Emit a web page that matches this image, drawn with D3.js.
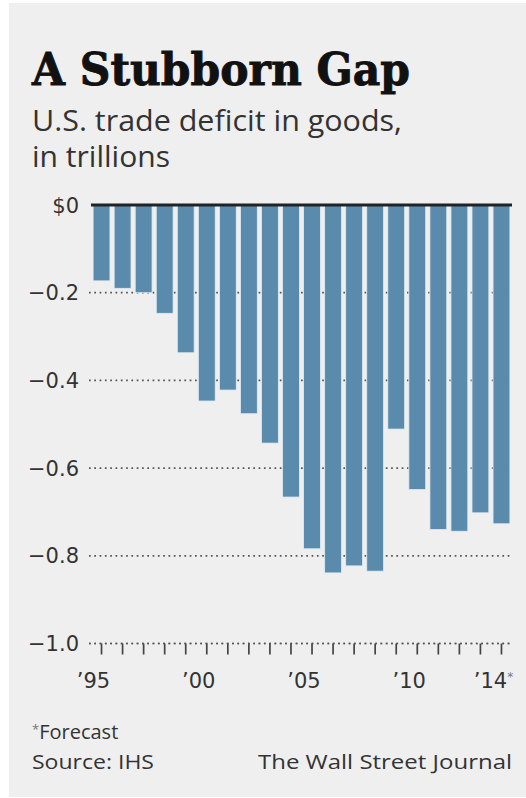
<!DOCTYPE html>
<html>
<head>
<meta charset="utf-8">
<script src="https://cdn.jsdelivr.net/npm/d3@7"></script>
<style>
  body { margin: 0; background: #ffffff; }
  svg { display: block; }
</style>
</head>
<body>
<div id="chart"></div>
<script>
// U.S. trade deficit in goods, trillions of dollars (2014 = forecast)
const years = ["1995", "1996", "1997", "1998", "1999", "2000", "2001", "2002", "2003", "2004",
  "2005", "2006", "2007", "2008", "2009", "2010", "2011", "2012", "2013", "2014"]
const deficit = [-0.173, -0.190, -0.200, -0.247, -0.337, -0.447, -0.422, -0.476, -0.543, -0.666,
  -0.784, -0.839, -0.823, -0.835, -0.511, -0.649, -0.740, -0.744, -0.702, -0.727]

const yTicks = [0, -0.2, -0.4, -0.6, -0.8, -1.0]
const yTickLabels = ["$0", "\u22120.2", "\u22120.4", "\u22120.6", "\u22120.8", "\u22121.0"]
const xLabelYears = ["1995", "2000", "2005", "2010", "2014"]
const xLabels = ["\u201995", "\u201900", "\u201905", "\u201910", "\u201914"]

const W = 526
const H = 798
const PLOT = { LEFT: 91, RIGHT: 512, TOP: 205, BOTTOM: 643.5 }

const svg = d3.select("#chart").append("svg")
  .attr("width", W)
  .attr("height", H)

// grey panel
svg.append("rect")
  .attr("x", 9)
  .attr("y", 3)
  .attr("width", W - 9)
  .attr("height", H - 4)
  .attr("fill", "#efefef")

const sans = "'Open Sans', 'DejaVu Sans', sans-serif"
const axisFont = "'DejaVu Sans', sans-serif"

// title + subtitle
svg.append("text")
  .attr("x", 32)
  .attr("y", 85)
  .attr("font-family", "'DejaVu Serif', serif")
  .attr("font-weight", "bold")
  .attr("font-size", 44)
  .attr("fill", "#111")
  .attr("stroke", "#111")
  .attr("stroke-width", 0.9)
  .attr("textLength", 378)
  .attr("lengthAdjust", "spacingAndGlyphs")
  .text("A Stubborn Gap")

svg.append("text")
  .attr("x", 32)
  .attr("y", 131)
  .attr("font-family", sans)
  .attr("font-size", 29)
  .attr("fill", "#333")
  .attr("textLength", 370)
  .attr("lengthAdjust", "spacingAndGlyphs")
  .text("U.S. trade deficit in goods,")

svg.append("text")
  .attr("x", 32)
  .attr("y", 166.5)
  .attr("font-family", sans)
  .attr("font-size", 29)
  .attr("fill", "#333")
  .attr("textLength", 138)
  .attr("lengthAdjust", "spacingAndGlyphs")
  .text("in trillions")

const x = d3.scaleBand()
  .domain(years)
  .range([PLOT.LEFT, PLOT.RIGHT])
  .paddingInner(0.2)
  .paddingOuter(0.1)

const y = d3.scaleLinear()
  .domain([0, -1])
  .range([PLOT.TOP, PLOT.BOTTOM])

// dotted gridlines (behind the bars)
svg.append("g")
  .selectAll("line")
  .data(yTicks.slice(1))
  .enter()
  .append("line")
    .attr("x1", 89)
    .attr("x2", PLOT.RIGHT)
    .attr("y1", d => y(d))
    .attr("y2", d => y(d))
    .attr("stroke", "#555")
    .attr("stroke-width", 1.7)
    .attr("stroke-dasharray", "1.7,3.6")

// y labels
svg.append("g")
  .selectAll("text")
  .data(yTicks)
  .enter()
  .append("text")
    .attr("x", 79)
    .attr("y", d => y(d) + 7.5)
    .attr("text-anchor", "end")
    .attr("font-family", axisFont)
    .attr("font-size", 21)
    .attr("fill", "#333")
    .text((d, i) => yTickLabels[i])

// bars
svg.append("g")
  .selectAll("rect")
  .data(deficit)
  .enter()
  .append("rect")
    .attr("x", (d, i) => x(years[i]))
    .attr("y", y(0))
    .attr("width", x.bandwidth())
    .attr("height", d => y(d) - y(0))
    .attr("fill", "#5a8bad")
    .attr("stroke", "#dfecf5")
    .attr("stroke-width", 0.8)

// zero line
svg.append("line")
  .attr("x1", PLOT.LEFT)
  .attr("x2", PLOT.RIGHT)
  .attr("y1", y(0))
  .attr("y2", y(0))
  .attr("stroke", "#1e2328")
  .attr("stroke-width", 3)

// bottom axis: ticks for every year
const xAxis = svg.append("g")
  .attr("transform", `translate(0, ${y(-1)})`)
  .call(d3.axisBottom(x).tickSize(11).tickFormat(""))

xAxis.select(".domain").remove()
xAxis.selectAll(".tick line")
  .attr("stroke", "#444")
  .attr("stroke-width", 1.7)

svg.append("line")
  .attr("x1", 89)
  .attr("x2", PLOT.RIGHT)
  .attr("y1", y(-1))
  .attr("y2", y(-1))
  .attr("stroke", "#555")
  .attr("stroke-width", 1.7)
  .attr("stroke-dasharray", "1.7,3.6")

const xl = svg.append("g")
  .selectAll("text")
  .data(xLabelYears)
  .enter()
  .append("text")
    .attr("x", d => x(d) + x.bandwidth() / 2 - 8)
    .attr("y", 688)
    .attr("text-anchor", "middle")
    .attr("font-family", axisFont)
    .attr("font-size", 21)
    .attr("fill", "#333")
    .text((d, i) => xLabels[i])

// forecast asterisk on the last label
xl.filter(d => d === "2014")
  .append("tspan")
    .attr("dy", -7)
    .attr("font-size", 12)
    .attr("fill", "#777")
    .text("*")

// footer
svg.append("text")
  .attr("x", 32)
  .attr("y", 739)
  .attr("font-family", sans)
  .attr("font-size", 20)
  .attr("fill", "#333")
  .call(t => t.append("tspan").attr("font-size", 13).attr("dy", -5).attr("fill", "#777").text("*"))
  .call(t => t.append("tspan").attr("dy", 5).text("Forecast"))

svg.append("text")
  .attr("x", 32)
  .attr("y", 769)
  .attr("font-family", sans)
  .attr("font-size", 20)
  .attr("fill", "#333")
  .attr("textLength", 122)
  .attr("lengthAdjust", "spacingAndGlyphs")
  .text("Source: IHS")

svg.append("text")
  .attr("x", 258)
  .attr("y", 769)
  .attr("font-family", sans)
  .attr("font-size", 20)
  .attr("fill", "#333")
  .attr("textLength", 254)
  .attr("lengthAdjust", "spacingAndGlyphs")
  .text("The Wall Street Journal")
</script>
</body>
</html>
